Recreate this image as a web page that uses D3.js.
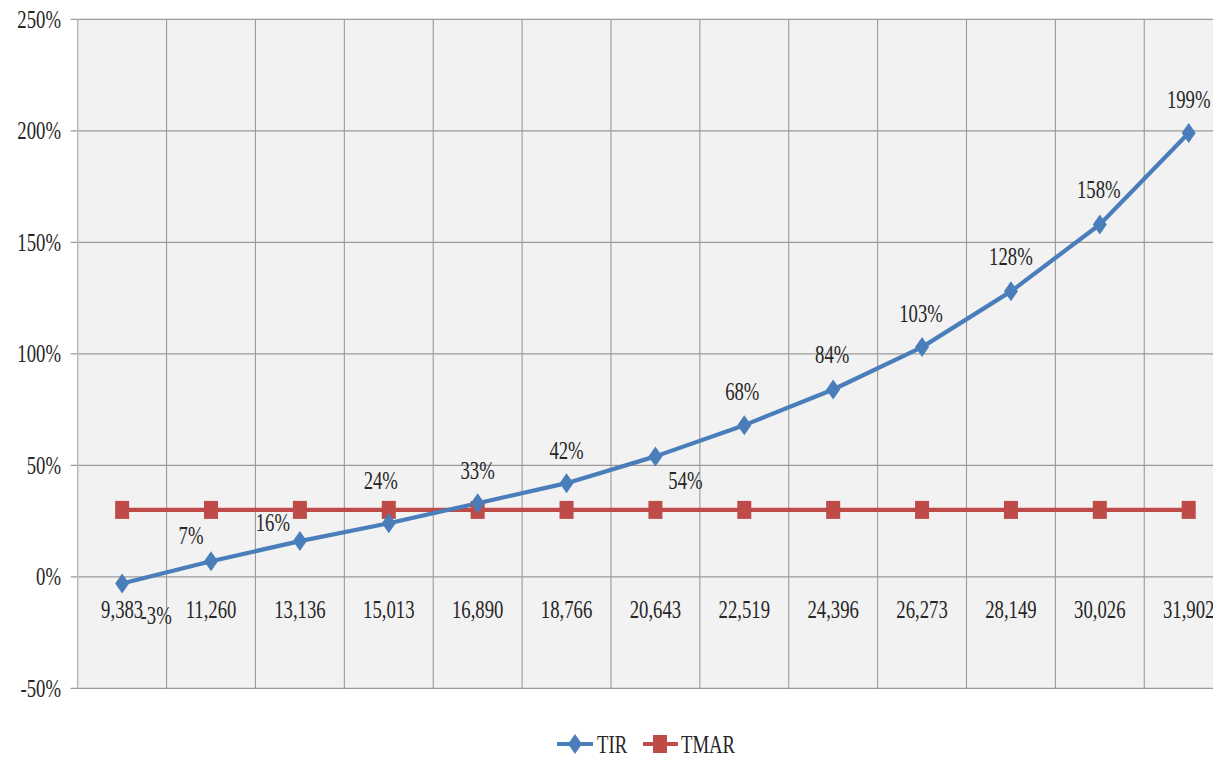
<!DOCTYPE html>
<html>
<head>
<meta charset="utf-8">
<script src="https://cdn.jsdelivr.net/npm/d3@7"></script>
<style>
  html, body { margin: 0; padding: 0; background: #ffffff; overflow: hidden; }
  svg { display: block; }
  text { font-family: "Liberation Serif", "Times New Roman", serif; fill: #262626; }
</style>
</head>
<body>
<svg id="chart" width="1213" height="757"></svg>
<script>
// Investment amounts on the category axis
const categories = ["9,383", "11,260", "13,136", "15,013", "16,890", "18,766", "20,643",
                    "22,519", "24,396", "26,273", "28,149", "30,026", "31,902"];
// Internal rate of return (%) for each amount
const tir = [-3, 7, 16, 24, 33, 42, 54, 68, 84, 103, 128, 158, 199];
// Minimum acceptable rate of return (%)
const tmar = [30, 30, 30, 30, 30, 30, 30, 30, 30, 30, 30, 30, 30];
// Value axis ticks (%)
const yTicks = [-50, 0, 50, 100, 150, 200, 250];

// Nudges for the TIR value labels (pixels, relative to the default spot above the point)
const labelNudge = [[34, 66], [-20, 8], [-27, 15], [-8, -9], [0, 1], [0, 1], [30, 58],
                    [-2, 0], [-1, -1], [-1, 0], [0, -1], [-1, -1], [0, 0]];

const svg = d3.select("#chart");
const blue = "#4a7ebb", red = "#be4b48";
const FS = 26, SX = 0.72; // font size and horizontal squeeze of the serif face

const plotLeft = 77.7, step = 88.88, plotTop = 19.3, plotBottom = 688.3;
const x = d3.scaleBand().domain(categories).range([plotLeft, plotLeft + step * categories.length]).padding(0);
const y = d3.scaleLinear().domain([-50, 250]).range([plotBottom, plotTop]);
const cx = c => x(c) + x.bandwidth() / 2;
const plotRight = x.range()[1];

function label(g, tx, ty, str, anchor, size) {
  return g.append("text")
    .attr("transform", `translate(${tx},${ty}) scale(${SX},1)`)
    .attr("text-anchor", anchor)
    .attr("dominant-baseline", "central")
    .style("font-size", (size || FS) + "px")
    .text(str);
}

// plot area
svg.append("rect").attr("x", plotLeft).attr("y", plotTop)
  .attr("width", plotRight - plotLeft).attr("height", plotBottom - plotTop).attr("fill", "#f2f2f2");

// horizontal gridlines with tick stubs
const grid = svg.append("g");
yTicks.forEach(t => {
  grid.append("line").attr("x1", plotLeft - 7).attr("x2", plotRight)
    .attr("y1", y(t)).attr("y2", y(t))
    .attr("stroke", "#9a9a9a").attr("stroke-width", 1.3);
});
// vertical gridlines at category boundaries
categories.slice(1).forEach(c => {
  grid.append("line").attr("x1", x(c)).attr("x2", x(c))
    .attr("y1", plotTop).attr("y2", plotBottom)
    .attr("stroke", "#9a9a9a").attr("stroke-width", 1.1);
});
// value axis line
svg.append("line").attr("x1", plotLeft).attr("x2", plotLeft).attr("y1", plotTop).attr("y2", plotBottom)
  .attr("stroke", "#bcbcbc").attr("stroke-width", 1.6);

// value axis labels
const yl = svg.append("g");
yTicks.forEach(t => label(yl, 61, y(t), t + "%", "end"));

// category labels sit just under the 0% line
const xl = svg.append("g");
categories.forEach(c => label(xl, cx(c), y(0) + 33, c, "middle"));

// series lines
const line = d3.line().x((d, i) => cx(categories[i])).y(d => y(d));
svg.append("path").datum(tmar).attr("d", line).attr("fill", "none")
  .attr("stroke", red).attr("stroke-width", 4.2);
svg.append("path").datum(tir).attr("d", line).attr("fill", "none")
  .attr("stroke", blue).attr("stroke-width", 4.2).attr("stroke-linejoin", "round");

// markers
const mw = 14, mh = 18;
svg.append("g").selectAll("rect").data(tmar).join("rect")
  .attr("x", (d, i) => cx(categories[i]) - mw / 2)
  .attr("y", d => y(d) - mh / 2)
  .attr("width", mw).attr("height", mh).attr("fill", red);

const dw = 7, dh = 10;
const diamond = (px, py) => `M${px},${py - dh}L${px + dw},${py}L${px},${py + dh}L${px - dw},${py}Z`;
svg.append("g").selectAll("path").data(tir).join("path")
  .attr("d", (d, i) => diamond(cx(categories[i]), y(d)))
  .attr("fill", blue);

// value labels for TIR
const vl = svg.append("g");
tir.forEach((v, i) => {
  const n = labelNudge[i];
  label(vl, cx(categories[i]) + n[0], y(v) - 34 + n[1], v + "%", "middle");
});

// legend
const lg = svg.append("g");
const ly = 744;
lg.append("line").attr("x1", 557).attr("x2", 593).attr("y1", ly).attr("y2", ly)
  .attr("stroke", blue).attr("stroke-width", 4.2);
lg.append("path").attr("d", diamond(575, ly)).attr("fill", blue);
label(lg, 597, ly, "TIR", "start");
lg.append("line").attr("x1", 643).attr("x2", 678).attr("y1", ly).attr("y2", ly)
  .attr("stroke", red).attr("stroke-width", 4.2);
lg.append("rect").attr("x", 660 - mw / 2).attr("y", ly - mh / 2).attr("width", mw).attr("height", mh).attr("fill", red);
label(lg, 681, ly, "TMAR", "start");
</script>
</body>
</html>
